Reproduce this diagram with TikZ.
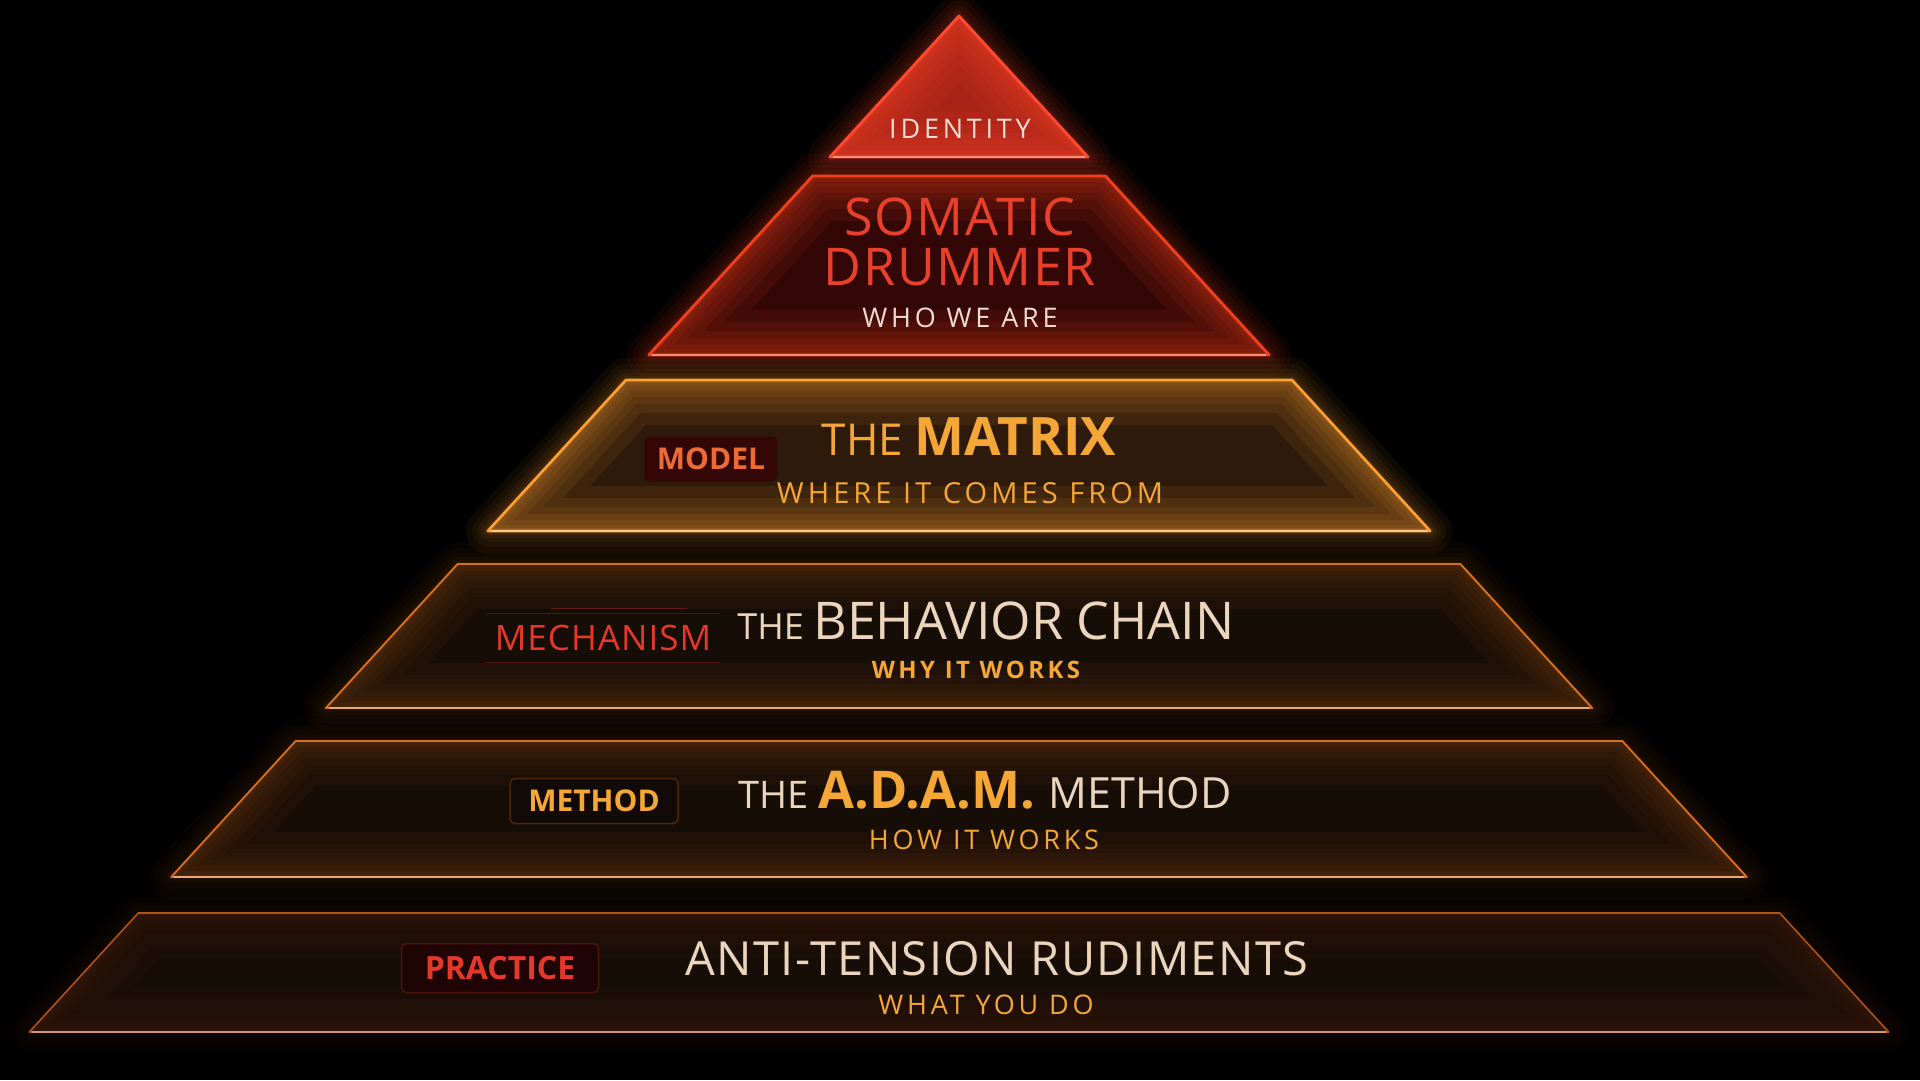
\documentclass[tikz,border=0pt]{standalone}
\usepackage{fontspec}
\setmainfont{Open Sans}
\newfontfamily\widefont[LetterSpace=14]{Open Sans}
\newfontfamily\titlefont[LetterSpace=3]{Open Sans}
\usetikzlibrary{positioning}

\definecolor{idfill}{HTML}{A82216}
\definecolor{idedge}{HTML}{FF4A30}
\definecolor{smfill}{HTML}{320706}
\definecolor{smedge}{HTML}{F0401E}
\definecolor{mxfill}{HTML}{2E1A0A}
\definecolor{mxedge}{HTML}{FFA034}
\definecolor{lowfill}{HTML}{170D07}
\definecolor{lowedge}{HTML}{D8701E}
\definecolor{pracedge}{HTML}{B05418}
\definecolor{paletxt}{HTML}{F0DCD0}
\definecolor{redtxt}{HTML}{E8402A}
\definecolor{goldtxt}{HTML}{F4A636}
\definecolor{creamtxt}{HTML}{EBD5BC}
\definecolor{tagred}{HTML}{E5382A}
\definecolor{tagorange}{HTML}{EC6A36}

\newcommand\fsz[1]{\fontsize{#1}{#1}\selectfont}

\tikzset{
  tagbox/.style={rounded corners=5pt, inner sep=0pt, font=\bfseries\fsz{30}},
  title/.style={anchor=base, text=creamtxt},
  subtitle/.style={text=goldtxt, font=\widefont\fsz{27}},
}

\begin{document}
\begin{tikzpicture}[x=1pt, y=-1pt]
\fill[black] (0,0) rectangle (1920,1080);
\useasboundingbox (0,0) rectangle (1920,1080);

% the six tiers of one pyramid, apex at (959,16)
\foreach \ty/\by/\fc/\ec/\gw in {
    16/157/idfill/idedge/1,
    176/355/smfill/smedge/1,
    380/531/mxfill/mxedge/.9,
    564/708/lowfill/lowedge/.5,
    741/877/lowfill/lowedge/.45,
    913/1032/lowfill/pracedge/.3}{
  \pgfmathsetmacro\tw{0.915*(\ty-16)}
  \pgfmathsetmacro\bw{0.915*(\by-16)}
  \pgfmathsetmacro\oo{0.06*\gw}
  \pgfmathsetmacro\oi{0.09*\gw}
  \pgfmathsetmacro\lw{1+1.8*\gw}
  \def\tier{(959-\tw,\ty) -- (959+\tw,\ty) -- (959+\bw,\by) -- (959-\bw,\by) -- cycle}
  % outer glow
  \foreach \w in {44,32,22,14,8,4}
    \draw[\ec, line width=\w pt, draw opacity=\oo, line join=round] \tier;
  \fill[\fc] \tier;
  % inner glow
  \begin{scope}
    \clip \tier;
    \foreach \w in {90,66,48,34,22,12,6}
      \draw[\ec, line width=\w pt, draw opacity=\oi, line join=round] \tier;
  \end{scope}
  \draw[\ec, line width=\lw pt, line join=round] \tier;
  \draw[\ec!60!white, line width=1.2pt] (959-\bw+3,\by) -- (959+\bw-3,\by);
}

% identity
\node[text=paletxt, font=\widefont\fsz{27}] (identity) at (960,129) {IDENTITY};

% somatic drummer
\node[text=redtxt, font=\titlefont\fsz{52}] (somatic) at (960,217) {SOMATIC};
\node[text=redtxt, font=\titlefont\fsz{52}] (drummer) at (960,267) {DRUMMER};
\node[subtitle, text=paletxt] (whoweare) at (960,318) {WHO WE ARE};

% model
\node[tagbox, fill=smfill, text=tagorange, minimum width=133pt, minimum height=45pt] (model) at (711,459) {MODEL};
\node[title, text=goldtxt] (matrix) at (969,455) {{\fsz{44}THE\ }{\fsz{53}\bfseries MATRIX}};
\node[subtitle, font=\widefont\fsz{29}] (comesfrom) at (970,493) {WHERE IT COMES FROM};

% mechanism
\node[text=tagred, font=\titlefont\fsz{35}, minimum width=233pt, minimum height=49pt] (mechanism) at (603,638) {MECHANISM};
\draw[tagred!35!black, line width=1.5pt] (mechanism.north west) -- (mechanism.north east);
\draw[tagred!35!black, line width=1.5pt] (mechanism.south west) -- (mechanism.south east);
\draw[tagred!45!black, line width=1.5pt] ([xshift=65pt, yshift=5pt]mechanism.north west) -- ([xshift=-33pt, yshift=5pt]mechanism.north east);
\node[title] (chain) at (986,639) {{\fsz{36}THE\ }{\fsz{52}BEHAVIOR CHAIN}};
\node[subtitle, font=\widefont\bfseries\fsz{24}] (whyworks) at (976,670) {WHY IT WORKS};

% method
\node[tagbox, fill=lowfill!80!black, draw=lowedge!35!black, line width=1.5pt, text=goldtxt, minimum width=168pt, minimum height=45pt] (method) at (594,801) {METHOD};
\node[title] (adam) at (985,808) {{\fsz{38}THE\ }{\fsz{52}\bfseries\color{goldtxt}A.D.A.M.\ }{\fsz{43}METHOD}};
\node[subtitle] (howworks) at (984,840) {HOW IT WORKS};

% practice
\node[tagbox, fill=smfill!60!black, draw=tagred!35!black, line width=1.5pt, text=tagred, font=\bfseries\fsz{32}, minimum width=197pt, minimum height=49pt] (practice) at (500,968) {PRACTICE};
\node[title] (rudiments) at (997,975) {\titlefont\fsz{47}ANTI-TENSION RUDIMENTS};
\node[subtitle] (whatyoudo) at (986,1005) {WHAT YOU DO};
\end{tikzpicture}
\end{document}
